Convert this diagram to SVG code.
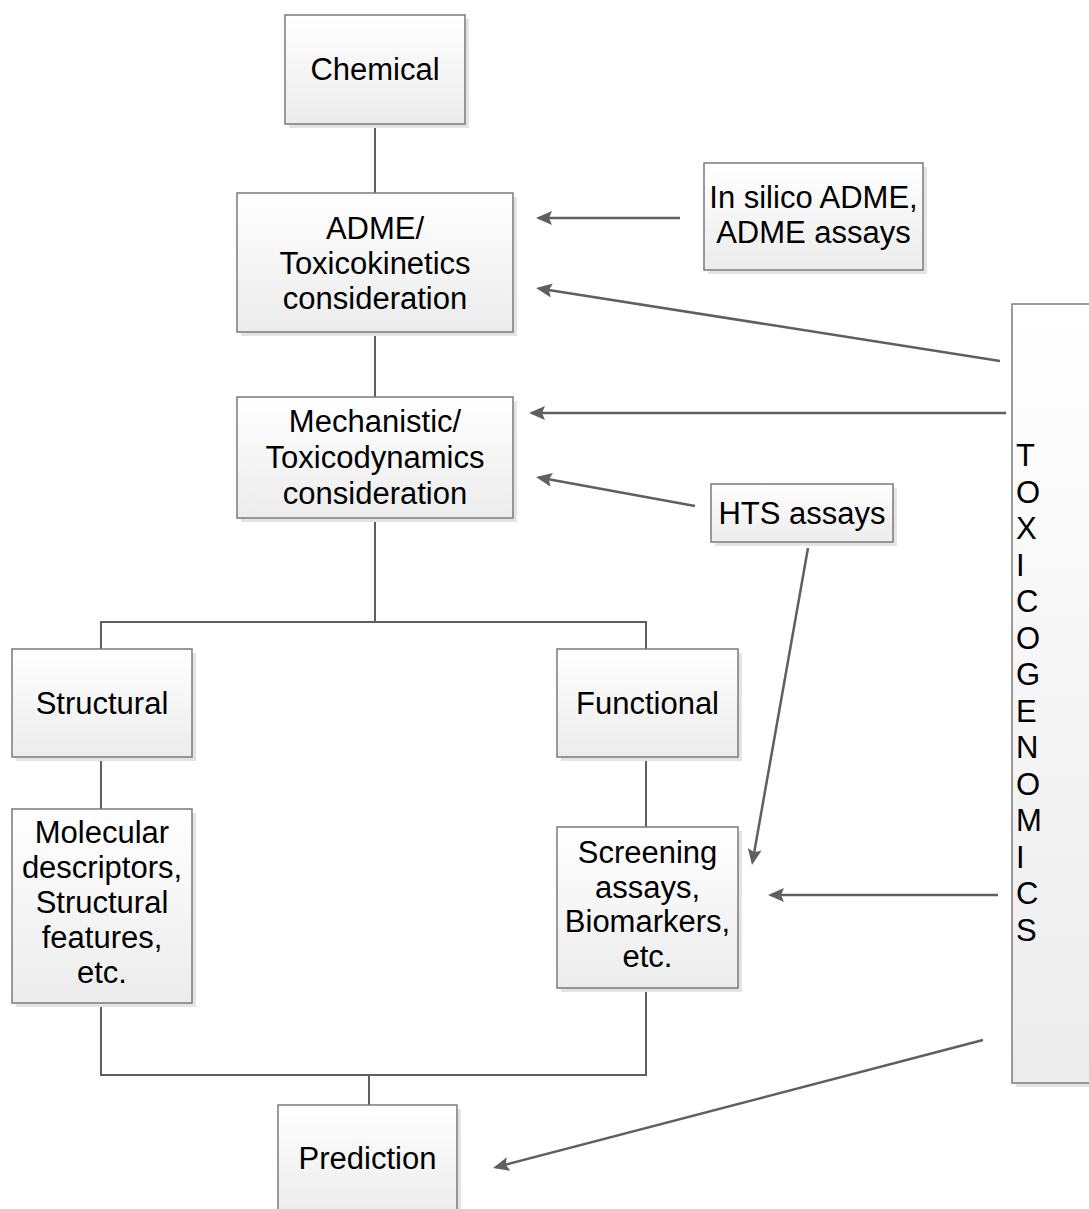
<svg xmlns="http://www.w3.org/2000/svg" width="1089" height="1209" viewBox="0 0 1089 1209">
<defs>
<linearGradient id="g" x1="0" y1="0" x2="0" y2="1">
<stop offset="0" stop-color="#ffffff"/>
<stop offset="1" stop-color="#ececec"/>
</linearGradient>
<marker id="ah" markerUnits="userSpaceOnUse" markerWidth="18" markerHeight="16" refX="13" refY="7" orient="auto">
<path d="M0,0 L16,7 L0,14 L3,7 z" fill="#5f5f5f"/>
</marker>
</defs>
<style>
.box{fill:url(#g);stroke:#7a7a7a;stroke-width:1.5}
.sh{fill:#e4e4e4}
.t{font-family:"Liberation Sans",Arial,sans-serif;font-size:31px;fill:#000;text-anchor:middle}
.tl{font-family:"Liberation Sans",Arial,sans-serif;font-size:31px;fill:#000}
.c{fill:none;stroke:#5f5f5f;stroke-width:2}
.a{fill:none;stroke:#5f5f5f;stroke-width:2.5;marker-end:url(#ah)}
</style>
<rect width="1089" height="1209" fill="#ffffff"/>
<g id="connectors">
<path class="c" d="M375,124 V193"/>
<path class="c" d="M375,332 V397"/>
<path class="c" d="M375,518 V622 M101,649 V622 H646 V649"/>
<path class="c" d="M101,757 V809"/>
<path class="c" d="M646,757 V827"/>
<path class="c" d="M101,1003 V1075 H646 V988 M369,1075 V1105"/>
<path class="a" d="M680,218 L539,218"/>
<path class="a" d="M1000,361 L539,288.5"/>
<path class="a" d="M1006,413 L532,413"/>
<path class="a" d="M695,506 L539,477.5"/>
<path class="a" d="M808,548 L752.5,862"/>
<path class="a" d="M998,895 L771,895"/>
<path class="a" d="M983,1040 L496,1167.2"/>
</g>
<g id="chemical">
<rect class="sh" x="289" y="19" width="180" height="109"/>
<rect class="box" x="285" y="15" width="180" height="109"/>
<text class="t" x="375" y="80">Chemical</text>
</g>
<g id="adme">
<rect class="sh" x="241" y="197" width="276" height="139"/>
<rect class="box" x="237" y="193" width="276" height="139"/>
<text class="t" x="375" y="239">ADME/</text>
<text class="t" x="375" y="274">Toxicokinetics</text>
<text class="t" x="375" y="309">consideration</text>
</g>
<g id="insilico">
<rect class="sh" x="708" y="167" width="219" height="107"/>
<rect class="box" x="704" y="163" width="219" height="107"/>
<text class="t" x="813.5" y="208">In silico ADME,</text>
<text class="t" x="813.5" y="243">ADME assays</text>
</g>
<g id="mechanistic">
<rect class="sh" x="241" y="401" width="276" height="121"/>
<rect class="box" x="237" y="397" width="276" height="121"/>
<text class="t" x="375" y="432">Mechanistic/</text>
<text class="t" x="375" y="468">Toxicodynamics</text>
<text class="t" x="375" y="504">consideration</text>
</g>
<g id="hts">
<rect class="sh" x="715" y="488" width="182" height="58"/>
<rect class="box" x="711" y="484" width="182" height="58"/>
<text class="t" x="802" y="524">HTS assays</text>
</g>
<g id="toxicogenomics">
<rect class="sh" x="1016" y="308" width="90" height="779"/>
<rect class="box" x="1012" y="304" width="90" height="779"/>
<text class="tl" x="1016" y="466">T</text>
<text class="tl" x="1016" y="502.5">O</text>
<text class="tl" x="1016" y="539">X</text>
<text class="tl" x="1016" y="575.5">I</text>
<text class="tl" x="1016" y="612">C</text>
<text class="tl" x="1016" y="648.5">O</text>
<text class="tl" x="1016" y="685">G</text>
<text class="tl" x="1016" y="721.5">E</text>
<text class="tl" x="1016" y="758">N</text>
<text class="tl" x="1016" y="794.5">O</text>
<text class="tl" x="1016" y="831">M</text>
<text class="tl" x="1016" y="867.5">I</text>
<text class="tl" x="1016" y="904">C</text>
<text class="tl" x="1016" y="940.5">S</text>
</g>
<g id="structural">
<rect class="sh" x="16" y="653" width="180" height="108"/>
<rect class="box" x="12" y="649" width="180" height="108"/>
<text class="t" x="102" y="714">Structural</text>
</g>
<g id="functional">
<rect class="sh" x="561" y="653" width="181" height="108"/>
<rect class="box" x="557" y="649" width="181" height="108"/>
<text class="t" x="647.5" y="714">Functional</text>
</g>
<g id="molecular">
<rect class="sh" x="16" y="813" width="180" height="194"/>
<rect class="box" x="12" y="809" width="180" height="194"/>
<text class="t" x="102" y="843">Molecular</text>
<text class="t" x="102" y="878">descriptors,</text>
<text class="t" x="102" y="913">Structural</text>
<text class="t" x="102" y="948">features,</text>
<text class="t" x="102" y="983">etc.</text>
</g>
<g id="screening">
<rect class="sh" x="561" y="831" width="181" height="161"/>
<rect class="box" x="557" y="827" width="181" height="161"/>
<text class="t" x="647.5" y="863">Screening</text>
<text class="t" x="647.5" y="898">assays,</text>
<text class="t" x="647.5" y="932">Biomarkers,</text>
<text class="t" x="647.5" y="967">etc.</text>
</g>
<g id="prediction">
<rect class="sh" x="282" y="1109" width="179" height="110"/>
<rect class="box" x="278" y="1105" width="179" height="110"/>
<text class="t" x="367.5" y="1169">Prediction</text>
</g>
</svg>
